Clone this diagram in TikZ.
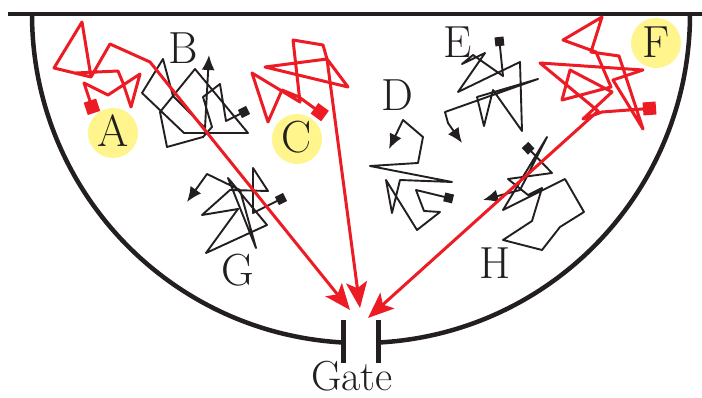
\documentclass[tikz,border=0pt]{standalone}
\usetikzlibrary{arrows.meta}
\definecolor{wred}{RGB}{237,28,36}
\definecolor{wblk}{RGB}{35,31,32}
\definecolor{wyel}{RGB}{255,245,140}
\tikzset{
  redwalk/.style={draw=wred, line width=3pt, line join=round,
    {Square[length=13pt,width=13pt]}-{Stealth[length=26pt,width=21pt,inset=6pt]}},
  blkwalk/.style={draw=wblk, line width=1.9pt, line join=round,
    {Square[length=9pt,width=9pt]}-{Latex[length=15pt,width=13pt]}},
  lbl/.style={font=\fontsize{45}{45}\selectfont, text=wblk, inner sep=0pt},
  spot/.style={circle, fill=wyel, minimum size=50pt, inner sep=0pt},
  wall/.style={draw=wblk, line width=4.5pt},
}
\begin{document}
\begin{tikzpicture}[x=1pt, y=-1pt]
\useasboundingbox (0,0) rectangle (702,398);
% walls
\draw[wall] (8,14) -- (702,14);
\draw[wall] (32,14) arc[start angle=180, end angle=266.95, radius=329pt];
\draw[wall] (690,14) arc[start angle=0, end angle=-86.95, radius=329pt];
\draw[wall] (343.5,320) -- (343.5,363);
\draw[wall] (378.5,320) -- (378.5,363);
% gate targets
\coordinate (gA) at (350,310);
\coordinate (gC) at (360,308);
\coordinate (gF) at (368,318);
% yellow spots
\node[spot] (spotA) at (113,133) {};
\node[spot] (spotC) at (297,139) {};
\node[spot] (spotF) at (656,43) {};
% black walks
\draw[blkwalk] (248,110) -- (226,121) -- (220,84) -- (203,97) -- (212,127) -- (203,137) -- (167,147) -- (160,112) -- (195,69) -- (248,133) -- (184,133) -- (142,93) -- (163,59) -- (173,96) -- (205,128) -- (209,55);
\draw[blkwalk] (285,197) -- (253,213) -- (253,168) -- (268,191) -- (230,190) -- (202,215) -- (238,209) -- (206,253) -- (267,225) -- (228,178) -- (256,248) -- (240,190) -- (207,174) -- (187,202);
\draw[blkwalk] (453,199) -- (416,190) -- (424,211) -- (440,212) -- (417,230) -- (386,180) -- (392,213) -- (400,180) -- (452,182) -- (370,166) -- (418,163) -- (423,137) -- (403,120) -- (389,149);
\draw[blkwalk] (499,37) -- (503,76) -- (473,55) -- (462,64) -- (485,53) -- (458,92) -- (520,62) -- (522,131) -- (493,90) -- (484,126) -- (477,97) -- (538,79) -- (445,112) -- (448,123) -- (462,143);
\draw[blkwalk] (525,145) -- (552,173) -- (508,179) -- (528,195) -- (542,188) -- (532,221) -- (503,240) -- (542,250) -- (560,227) -- (584,212) -- (565,179) -- (503,210) -- (547,137) -- (520,190) -- (483,200);
% red walks
\draw[redwalk] (94,113) -- (84,83) -- (108,95) -- (140,74) -- (131,107) -- (123,83) -- (118,71) -- (76,73) -- (91,77) -- (54,68) -- (82,22) -- (91,77) -- (110,44) -- (150,62) -- (gA);
\draw[redwalk] (325,116) -- (299,97) -- (282,90) -- (268,122) -- (252,73) -- (300,102) -- (293,40) -- (323,45) -- (327,59) -- (348,87) -- (265,67) -- (327,59) -- (gC);
\draw[redwalk] (656,108) -- (602,112) -- (583,119) -- (612,92) -- (570,70) -- (562,100) -- (611,87) -- (596,52) -- (563,40) -- (602,17) -- (591,52) -- (619,56) -- (643,129) -- (613,80) -- (643,70) -- (540,63) -- (598,111) -- (gF);
% labels
\node[lbl] (A) at (113,131) {A};
\node[lbl] (B) at (183,48) {B};
\node[lbl] (C) at (297,137) {C};
\node[lbl] (D) at (397,95) {D};
\node[lbl] (E) at (458,42) {E};
\node[lbl] (F) at (656,42) {F};
\node[lbl] (G) at (238,270) {G};
\node[lbl] (H) at (495,263) {H};
\node[lbl, font=\fontsize{42}{42}\selectfont, anchor=base] (gate) at (352,390) {Gate};
\end{tikzpicture}
\end{document}
